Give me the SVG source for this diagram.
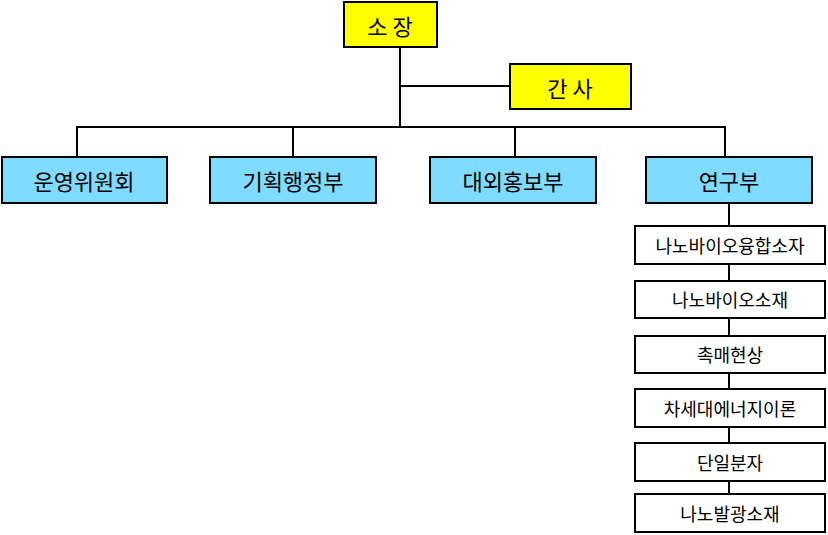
<svg xmlns="http://www.w3.org/2000/svg" width="828" height="535" viewBox="0 0 828 535">
<style>
.y{fill:#FFFF00;stroke:#000;stroke-width:2}
.b{fill:#7FDBFF;stroke:#000;stroke-width:2}
.w{fill:#fff;stroke:#000;stroke-width:2}
.l{stroke:#000;stroke-width:2;fill:none}
text{font-family:"Noto Sans CJK KR",sans-serif;text-anchor:middle;dominant-baseline:central;fill:#000}
.t1{font-size:22px}.t2{font-size:18px}
</style>
<g id="connectors">
<path class="l" d="M400 47V127M400 86H510M77 157V127H725V157M293 127V157M515 127V157M729 203V494"/>
</g>
<g id="n-sojang"><rect class="y" x="344" y="2" width="93" height="45"/><text class="t1" x="390" y="25">소 장</text></g>
<g id="n-gansa"><rect class="y" x="510" y="64" width="121" height="45"/><text class="t1" x="570" y="87">간 사</text></g>
<g id="n-1"><rect class="b" x="2" y="157" width="165" height="46"/><text class="t1" x="84" y="180">운영위원회</text></g>
<g id="n-2"><rect class="b" x="210" y="157" width="166" height="46"/><text class="t1" x="293" y="180">기획행정부</text></g>
<g id="n-3"><rect class="b" x="430" y="157" width="166" height="46"/><text class="t1" x="513" y="180">대외홍보부</text></g>
<g id="n-4"><rect class="b" x="646" y="157" width="166" height="46"/><text class="t1" x="729" y="180">연구부</text></g>
<g id="s1"><rect class="w" x="635" y="226" width="190" height="38"/><text class="t2" x="730" y="245">나노바이오융합소자</text></g>
<g id="s2"><rect class="w" x="635" y="281" width="190" height="37"/><text class="t2" x="730" y="299">나노바이오소재</text></g>
<g id="s3"><rect class="w" x="635" y="336" width="190" height="37"/><text class="t2" x="730" y="354">촉매현상</text></g>
<g id="s4"><rect class="w" x="635" y="389" width="190" height="38"/><text class="t2" x="730" y="408">차세대에너지이론</text></g>
<g id="s5"><rect class="w" x="635" y="443" width="190" height="38"/><text class="t2" x="730" y="462">단일분자</text></g>
<g id="s6"><rect class="w" x="635" y="494" width="190" height="38"/><text class="t2" x="730" y="513">나노발광소재</text></g>
</svg>
